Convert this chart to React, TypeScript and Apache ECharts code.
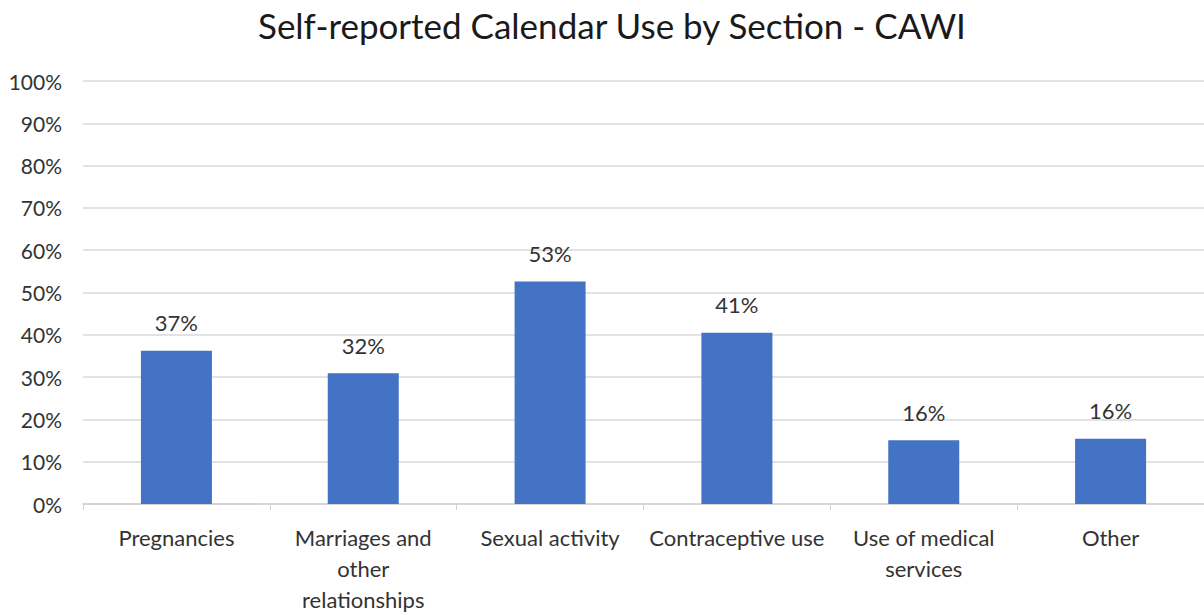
import React, { useEffect, useRef } from "react";
import * as echarts from "echarts";

const categories = [
  "Pregnancies",
  "Marriages and\nother\nrelationships",
  "Sexual activity",
  "Contraceptive use",
  "Use of medical\nservices",
  "Other",
];
const values = [36.2, 30.9, 52.6, 40.5, 15.1, 15.4];
const valueLabels = ["37%", "32%", "53%", "41%", "16%", "16%"];
const yTicks = [0, 10, 20, 30, 40, 50, 60, 70, 80, 90, 100];
const title = "Self-reported Calendar Use by Section - CAWI";

export default function App() {
  const ref = useRef<HTMLDivElement>(null);
  useEffect(() => {
    if (!ref.current) return;
    const chart = echarts.init(ref.current, undefined, { renderer: "svg" });
    const font = "Lato, 'Open Sans', sans-serif";
    chart.setOption({
      animation: false,
      title: {
        text: title,
        left: 253,
        top: 2,
        textStyle: { fontFamily: font, fontSize: 35, fontWeight: "normal", color: "#1a1a1a" },
      },
      grid: { left: 83, top: 81, width: 1126, height: 430, containLabel: false },
      xAxis: {
        type: "category",
        data: categories,
        axisLine: { show: true, lineStyle: { color: "#d0d0d0", width: 1.5 } },
        axisTick: { show: true, length: 6, lineStyle: { color: "#d0d0d0" } },
        axisLabel: {
          fontFamily: font,
          fontSize: 22,
          color: "#333333",
          lineHeight: 31,
          margin: 18,
          interval: 0,
        },
      },
      yAxis: {
        type: "value",
        min: yTicks[0],
        max: yTicks[yTicks.length - 1],
        interval: 10,
        axisLine: { show: false },
        axisTick: { show: false },
        splitLine: { lineStyle: { color: "#d9d9d9", width: 1.5 } },
        axisLabel: {
          fontFamily: font,
          fontSize: 21,
          color: "#333333",
          margin: 21,
          formatter: (v: number) => `${v}%`,
        },
      },
      series: [
        {
          type: "bar",
          data: values,
          barWidth: 71,
          itemStyle: { color: "#4472C4" },
          label: {
            show: true,
            position: "top",
            distance: 17,
            fontFamily: font,
            fontSize: 22,
            color: "#333333",
            formatter: (p: any) => valueLabels[p.dataIndex],
          },
        },
      ],
    });
    return () => chart.dispose();
  }, []);
  return <div ref={ref} style={{ width: 1204, height: 615, position: "absolute", left: 0, top: 0 }} />;
}
